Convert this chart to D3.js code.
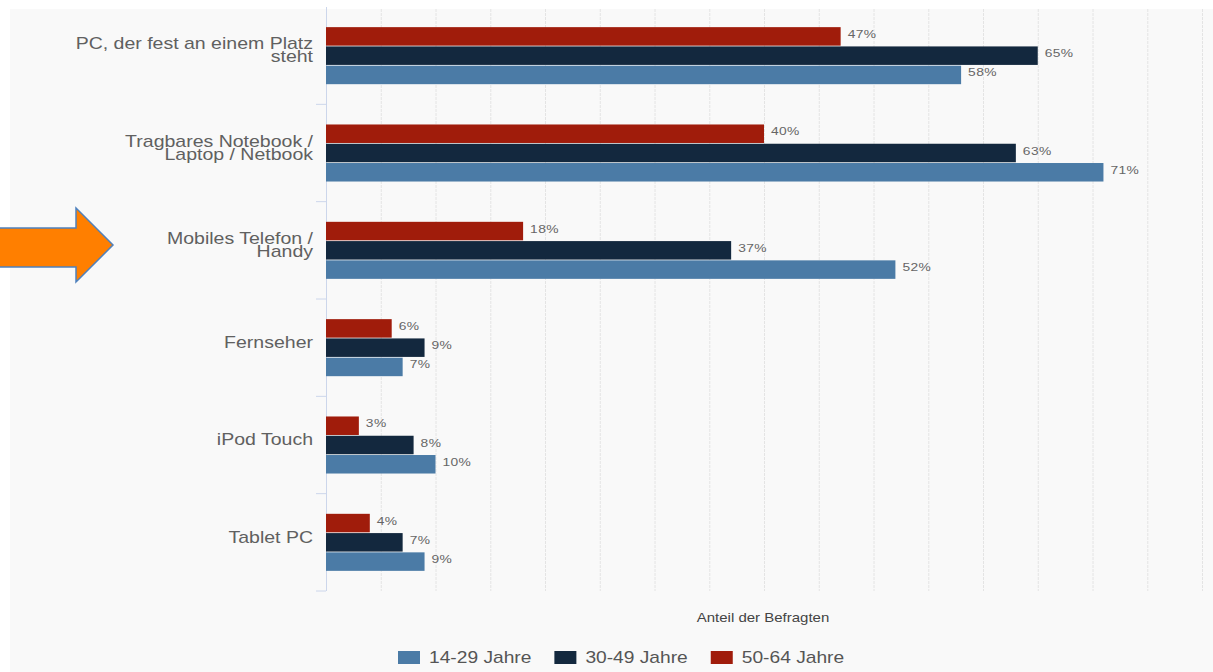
<!DOCTYPE html>
<html><head><meta charset="utf-8">
<script src="https://cdn.jsdelivr.net/npm/d3@7/dist/d3.min.js"></script>
<style>html,body{margin:0;padding:0;background:#fff;}svg{display:block;font-family:"Liberation Sans",Arial,sans-serif;}</style>
</head><body>
<svg id="chart" width="1213" height="672"></svg>
<script>
const categories = [
  "PC, der fest an einem Platz|steht",
  "Tragbares Notebook /|Laptop / Netbook",
  "Mobiles Telefon /|Handy",
  "Fernseher",
  "iPod Touch",
  "Tablet PC"
];
const seriesNames = ["14-29 Jahre", "30-49 Jahre", "50-64 Jahre"];
const seriesColors = ["#4b7ba6", "#13283e", "#a01c0b"];
const values1429 = [58, 71, 52, 7, 10, 9];
const values3049 = [65, 63, 37, 9, 8, 7];
const values5064 = [47, 40, 18, 6, 3, 4];
const gridTicks = [0,5,10,15,20,25,30,35,40,45,50,55,60,65,70,75,80];
const axisTitle = "Anteil der Befragten";

(function(){
const seriesValues = [values1429, values3049, values5064];
const SX = 1.22;
const svg = d3.select("#chart");

// panel background
svg.append("rect").attr("x",10).attr("y",9).attr("width",1203).attr("height",663).attr("fill","#f9f9f9");

const pL = 326, pR = 1202, pT = 7, pB = 591;
const x = d3.scaleLinear().domain([0,80]).range([pL,pR]);
const y0 = d3.scaleBand().domain(categories).range([pT,pB]).paddingInner(0.414).paddingOuter(0.207);
const barOrder = [2,1,0]; // 50-64 top, 30-49, 14-29
const y1 = d3.scaleBand().domain(barOrder).range([0,y0.bandwidth()]).paddingInner(0.04);

// gridlines
svg.append("g").selectAll("line").data(gridTicks.slice(1)).join("line")
  .attr("x1",d=>x(d)+0.5).attr("x2",d=>x(d)+0.5).attr("y1",9).attr("y2",pB)
  .attr("stroke","#e4e4e4").attr("stroke-width",1).attr("stroke-dasharray","3,1");

// y axis line and ticks
const step = y0.step();
const tickYs = d3.range(0, categories.length+1).map(i => pT + i*step);
svg.append("line").attr("x1",pL+0.5).attr("x2",pL+0.5).attr("y1",pT).attr("y2",pB).attr("stroke","#ccd6eb");
svg.append("g").selectAll("line").data(tickYs.slice(1)).join("line")
  .attr("x1",pL-10).attr("x2",pL).attr("y1",d=>d).attr("y2",d=>d).attr("stroke","#ccd6eb");

// bars
const groups = svg.append("g").selectAll("g").data(categories).join("g")
  .attr("transform", d => `translate(0,${y0(d)})`);
groups.each(function(cat, ci){
  const g = d3.select(this);
  barOrder.forEach(si => {
    const v = seriesValues[si][ci];
    g.append("rect").attr("x",x(0)).attr("y",y1(si)).attr("width",x(v)-x(0)).attr("height",y1.bandwidth())
      .attr("fill",seriesColors[si]);
    g.append("text").attr("transform",`translate(${x(v)+7},${y1(si)+y1.bandwidth()/2+1.5}) scale(1.2,1)`)
      .attr("font-size",11.5).attr("fill","#666").attr("letter-spacing",0.3).text(v + "%");
  });
});

// category labels (one text element per category, lines as tspans)
const lineH = 13;
categories.forEach(cat => {
  const lines = cat.split("|");
  const c = y0(cat) + y0.bandwidth()/2;
  const by = c + 0.3 - (lines.length-1)/2*lineH;
  const t = svg.append("text").attr("transform",`translate(313,${by}) scale(${SX},1)`)
    .attr("text-anchor","end").attr("font-size",16).attr("fill","#606060");
  lines.forEach((ln,i) => {
    t.append("tspan").attr("x",0).attr("dy", i===0 ? 0 : lineH).text(ln);
  });
});

// axis title
svg.append("text").attr("transform",`translate(763,622) scale(1.2,1)`).attr("text-anchor","middle")
  .attr("font-size",12.5).attr("fill","#444").text(axisTitle);

// legend
let lx = 398;
seriesNames.forEach((name,i) => {
  svg.append("rect").attr("x",lx).attr("y",651).attr("width",22).attr("height",13).attr("fill",seriesColors[i]);
  const t = svg.append("text").attr("transform",`translate(${lx+31},663) scale(1.2,1)`)
    .attr("font-size",16).attr("fill","#555").text(name);
  const w = t.node().getComputedTextLength()*1.2;
  lx = lx + 31 + w + 23;
});

// annotation arrow
svg.append("path").attr("d","M-5,228 L76,228 L76,208 L113,245 L76,282 L76,267 L-5,267 Z")
  .attr("fill","#ff7f00").attr("stroke","#4f81bd").attr("stroke-width",1.5);
})();
</script>
</body></html>
